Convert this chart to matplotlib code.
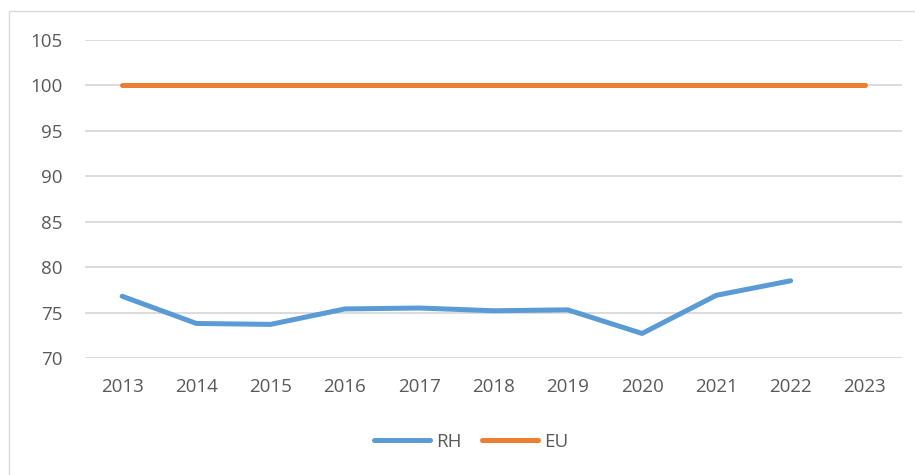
import matplotlib
matplotlib.use("Agg")
import matplotlib.pyplot as plt
from matplotlib.patches import Rectangle

years = ["2013", "2014", "2015", "2016", "2017", "2018", "2019", "2020", "2021", "2022", "2023"]
rh = [76.8, 73.8, 73.7, 75.4, 75.5, 75.2, 75.3, 72.7, 76.9, 78.5]
eu = [100, 100, 100, 100, 100, 100, 100, 100, 100, 100, 100]
yticks = [70, 75, 80, 85, 90, 95, 100, 105]

plt.rcParams['font.family'] = ['Open Sans', 'DejaVu Sans']
txt = '#595959'

fig = plt.figure(figsize=(9.15, 4.75), dpi=100)
fig.patches.append(Rectangle((8.5/915, -0.1), 1.2, 1 - 11/475 + 0.1, transform=fig.transFigure,
                             fill=False, edgecolor='#D9D9D9', linewidth=1.0))
ax = fig.add_axes([85/915, 1 - 358/475, (902 - 85)/915, (358 - 40)/475])

x_rh = list(range(len(rh)))
x_eu = list(range(len(eu)))
ax.plot(x_rh, rh, color='#5B9BD5', linewidth=3.6, solid_capstyle='round', solid_joinstyle='round', label='RH', zorder=3)
ax.plot(x_eu, eu, color='#ED7D31', linewidth=3.6, solid_capstyle='round', solid_joinstyle='round', label='EU', zorder=3)

ax.set_xlim(-0.5, len(years) - 0.5)
ax.set_ylim(70, 105)
ax.set_yticks(yticks)
ax.set_xticks(range(len(years)))
ax.set_xticklabels(years)
ax.grid(axis='y', color='#D9D9D9', linewidth=1.3)
ax.set_axisbelow(True)
for s in ax.spines.values():
    s.set_visible(False)
ax.tick_params(axis='both', length=0, labelsize=13.5, labelcolor=txt)
ax.tick_params(axis='y', pad=16)
ax.tick_params(axis='x', pad=14.5)

leg = fig.legend(loc='center', bbox_to_anchor=(471/915, 1 - 442/475), ncol=2, frameon=False,
                 fontsize=13.5, handlelength=3.0, handletextpad=0.3, columnspacing=1.1, labelcolor=txt)

fig.savefig('out.png', dpi=100, facecolor='white')
